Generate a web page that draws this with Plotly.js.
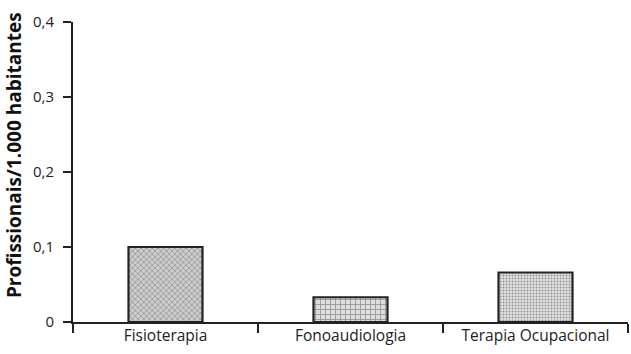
<!DOCTYPE html>
<html>
<head>
<meta charset="utf-8">
<script src="https://cdn.plot.ly/plotly-3.0.1.min.js"></script>
<style>html,body{margin:0;padding:0;background:#fff;}#chart{width:631px;height:354px;}</style>
</head>
<body>
<div id="chart"></div>
<script>
const categories = ["Fisioterapia", "Fonoaudiologia", "Terapia Ocupacional"];
const values = [0.100, 0.033, 0.066];
const yTicks = [0, 0.1, 0.2, 0.3, 0.4];
const yTickLabels = ["0", "0,1", "0,2", "0,3", "0,4"];
const yTitle = "<b>Profissionais/1.000 habitantes</b>";

const trace = {
  type: "bar",
  x: categories,
  y: values,
  width: 0.4,
  marker: {
    color: ["#cdcdcd", "#dedede", "#e0e0e0"],
    line: {color: "#222", width: 2.2},
    pattern: {
      shape: ["x", "+", "."],
      fgcolor: ["#b2b2b2", "#bcbcbc", "#c8c8c8"],
      size: [4, 5, 3],
      solidity: 0.3,
      fillmode: "overlay"
    }
  },
  hoverinfo: "none"
};

const layout = {
  width: 631,
  height: 354,
  margin: {l: 73, r: 3, t: 22, b: 32},
  paper_bgcolor: "#fff",
  plot_bgcolor: "#fff",
  separators: ",.",
  showlegend: false,
  font: {family: "Open Sans, DejaVu Sans, sans-serif", color: "#222", size: 15},
  xaxis: {
    type: "category",
    showline: true,
    linecolor: "#222",
    linewidth: 2,
    ticks: "outside",
    tickson: "boundaries",
    ticklen: 9,
    tickwidth: 2,
    tickcolor: "#222",
    showgrid: false,
    zeroline: false,
    tickfont: {size: 15.5, color: "#222"},
    ticklabelstandoff: -2,
    range: [-0.5, 2.5],
    fixedrange: true
  },
  yaxis: {
    range: [0, 0.4],
    tickvals: yTicks,
    ticktext: yTickLabels,
    showline: true,
    linecolor: "#222",
    linewidth: 2,
    ticks: "outside",
    ticklen: 8,
    tickwidth: 2,
    tickcolor: "#222",
    showgrid: false,
    zeroline: false,
    ticklabelstandoff: 6,
    tickfont: {size: 15, color: "#222"},
    fixedrange: true
  },
  annotations: [{
    text: yTitle,
    xref: "paper", yref: "paper",
    x: -0.106, y: 0.557,
    xanchor: "center", yanchor: "middle",
    textangle: -90,
    showarrow: false,
    font: {size: 19, color: "#111", family: "Open Sans, DejaVu Sans, sans-serif"}
  }]
};

Plotly.newPlot("chart", [trace], layout, {displayModeBar: false, staticPlot: true});
</script>
</body>
</html>
